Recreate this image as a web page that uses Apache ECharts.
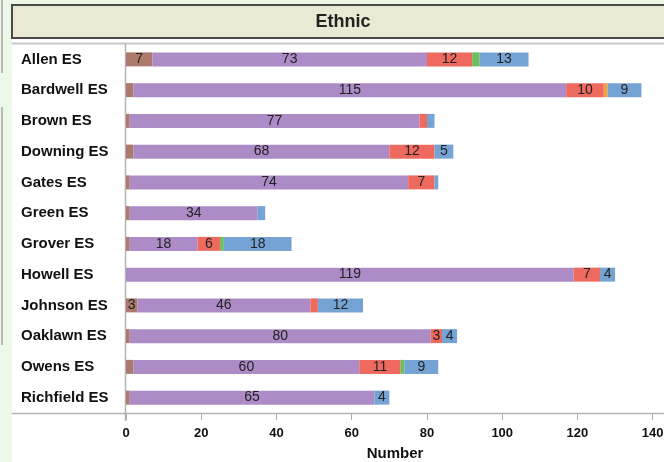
<!DOCTYPE html>
<html>
<head>
<meta charset="utf-8">
<script src="https://cdn.jsdelivr.net/npm/echarts@6/dist/echarts.min.js"></script>
<style>
html,body{margin:0;padding:0;background:#fff;}
#main{width:664px;height:462px;}
</style>
</head>
<body>
<div id="main"></div>
<script>
// 学校名称（y轴类别）
var schools=['Allen ES','Bardwell ES','Brown ES','Downing ES','Gates ES','Green ES','Grover ES','Howell ES','Johnson ES','Oaklawn ES','Owens ES','Richfield ES'];

// 各族群人数，按颜色顺序堆叠
var brownVals =[7,2,1,2,1,1,1,0,3,1,2,1];
var purpleVals=[73,115,77,68,74,34,18,119,46,80,60,65];
var redVals   =[12,10,2,12,7,0,6,7,2,3,11,0];
var greenVals =[2,0,0,0,0,0,1,0,0,0,1,0];
var orangeVals=[0,1,0,0,0,0,0,0,0,0,0,0];
var blueVals  =[13,9,2,5,1,2,18,4,12,4,9,4];

var xTicks=[0,20,40,60,80,100,120,140];

var fontName='"Liberation Sans", Arial, sans-serif';

function makeSeries(name,data,color){
	return {
		name:name,
		type:'bar',
		stack:'total',
		barWidth:14,
		data:data,
		itemStyle:{color:color},
		label:{
			show:true,
			position:'inside',
			color:'#222',
			fontSize:14,
			fontFamily:fontName,
			// 数值太小时不显示标签
			formatter:function(p){ return p.value>=3 ? p.value : ''; }
		}
	};
}

var myChart=echarts.init(document.getElementById('main'));

var option={
	backgroundColor:'#ffffff',
	animation:false,
	textStyle:{fontFamily:fontName},
	graphic:[
		{type:'rect',z:-10,shape:{x:0,y:0,width:12,height:462},style:{fill:'#eef8e8'}},
		{type:'rect',z:-10,shape:{x:0,y:0,width:664,height:5},style:{fill:'#eef8e8'}},
		{type:'line',z:-5,shape:{x1:2,y1:0,x2:2,y2:73},style:{stroke:'#b8b8b8',lineWidth:2}},
		{type:'line',z:-5,shape:{x1:2,y1:107,x2:2,y2:345},style:{stroke:'#b8b8b8',lineWidth:2}},
		{type:'rect',z:-5,shape:{x:12,y:5,width:670,height:33},style:{fill:'#e9e9d4',stroke:'#4a4a4a',lineWidth:2}},
		{type:'text',z:5,x:343,y:22,style:{text:'Ethnic',font:'bold 18px '+fontName,fill:'#222',textAlign:'center',textVerticalAlign:'middle'}},
		{type:'line',z:-5,shape:{x1:12,y1:43.5,x2:664,y2:43.5},style:{stroke:'#c8c8c8',lineWidth:2}},
		{type:'line',z:-5,shape:{x1:12,y1:413.5,x2:664,y2:413.5},style:{stroke:'#b4b4b4',lineWidth:1.5}},
		{type:'line',z:-5,shape:{x1:125.5,y1:44,x2:125.5,y2:421},style:{stroke:'#b4b4b4',lineWidth:1.5}}
	],
	grid:{left:126,right:0,top:44,bottom:49,outerBoundsMode:'none',containLabel:false},
	xAxis:{
		type:'value',
		min:0,
		max:143,
		interval:20,
		name:'Number',
		nameLocation:'middle',
		nameGap:33,
		nameTextStyle:{fontWeight:'bold',fontSize:15,color:'#111',fontFamily:fontName},
		axisLine:{show:false},
		axisTick:{show:true,length:7,lineStyle:{color:'#aaa'}},
		splitLine:{show:false},
		axisLabel:{
			fontWeight:'bold',fontSize:13,color:'#111',margin:14,
			showMaxLabel:false,
			formatter:function(v){ return xTicks.indexOf(v)>=0 ? v : ''; }
		}
	},
	yAxis:{
		type:'category',
		inverse:true,
		data:schools,
		axisLine:{show:false},
		axisTick:{show:false},
		axisLabel:{align:'left',margin:105,fontWeight:'bold',fontSize:15,color:'#111'}
	},
	series:[
		makeSeries('Group 1',brownVals,'#ab7a6c'),
		makeSeries('Group 2',purpleVals,'#ad8bc7'),
		makeSeries('Group 3',redVals,'#ee6a5f'),
		makeSeries('Group 4',greenVals,'#6cbf5a'),
		makeSeries('Group 5',orangeVals,'#f5a13c'),
		makeSeries('Group 6',blueVals,'#75a3d4')
	]
};

myChart.setOption(option);
</script>
</body>
</html>
